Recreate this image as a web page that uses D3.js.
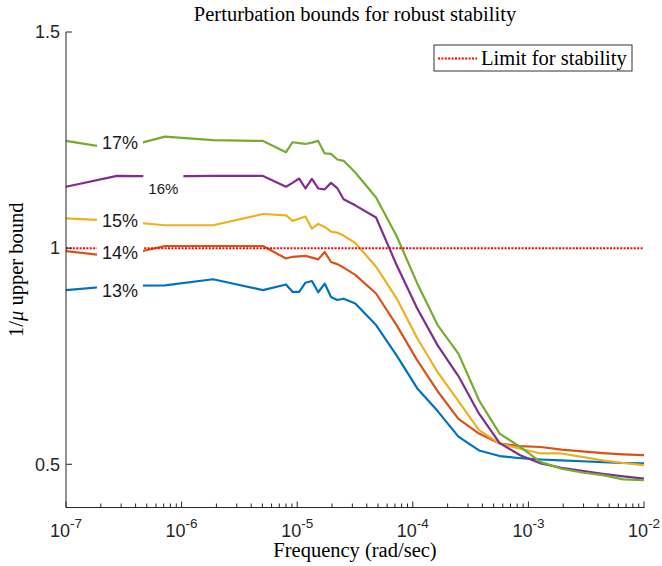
<!DOCTYPE html>
<html>
<head>
<meta charset="utf-8">
<script src="https://cdn.jsdelivr.net/npm/d3@7"></script>
<style>
  html, body { margin: 0; padding: 0; background: #fff; }
  svg { display: block; }
</style>
</head>
<body>
<svg id="chart" width="662" height="566"></svg>
<script>
// ---- data ----
const freqs = [1e-7, 2.76e-7, 7.18e-7, 1.87e-6, 5.06e-6, 8.0e-6, 9.1e-6, 1.04e-5, 1.18e-5, 1.34e-5,
  1.52e-5, 1.73e-5, 1.96e-5, 2.22e-5, 2.52e-5, 3.18e-5, 4.81e-5, 7.24e-5, 1.09e-4, 1.64e-4,
  2.48e-4, 3.74e-4, 5.64e-4, 8.49e-4, 1.28e-3, 1.93e-3, 2.91e-3, 4.39e-3, 6.61e-3, 1e-2];

const bound13 = [0.903,0.913,0.914,0.928,0.903,0.916,0.899,0.899,0.920,0.924,0.898,0.918,0.887,0.880,0.883,0.872,0.822,0.752,0.676,0.623,0.564,0.532,0.519,0.514,0.511,0.509,0.507,0.505,0.503,0.502];
const bound14 = [0.993,0.980,1.005,1.005,1.005,0.976,0.980,0.981,0.982,0.978,0.974,0.991,0.968,0.963,0.955,0.938,0.895,0.822,0.741,0.669,0.605,0.571,0.548,0.542,0.540,0.534,0.530,0.526,0.523,0.521];
const bound15 = [1.069,1.063,1.053,1.053,1.079,1.076,1.063,1.068,1.073,1.045,1.056,1.049,1.038,1.036,1.029,1.012,0.957,0.884,0.792,0.713,0.646,0.579,0.548,0.536,0.525,0.525,0.517,0.509,0.503,0.498];
const bound16 = [1.142,1.167,1.166,1.167,1.167,1.142,1.151,1.161,1.138,1.160,1.138,1.136,1.151,1.139,1.113,1.099,1.071,0.961,0.861,0.775,0.704,0.617,0.549,0.521,0.502,0.492,0.485,0.478,0.472,0.467];
const bound17 = [1.248,1.229,1.258,1.250,1.248,1.222,1.245,1.243,1.241,1.244,1.248,1.219,1.218,1.205,1.202,1.175,1.117,1.028,0.919,0.822,0.756,0.648,0.571,0.540,0.505,0.490,0.481,0.475,0.465,0.463];

const seriesNames = ["13%", "14%", "15%", "16%", "17%"];
const seriesValues = [bound13, bound14, bound15, bound16, bound17];
const seriesColors = ["#0072BD", "#D95319", "#EDB120", "#7E2F8E", "#77AC30"];

const stabilityLimit = 1;
const yTicks = [0.5, 1, 1.5];
const yTickLabels = ["0.5", "1", "1.5"];
const xTickExponents = [-7, -6, -5, -4, -3, -2];

// curve labels
const labelText = ["17%", "16%", "15%", "14%", "13%"];
const labelFreq = [2.93e-7, 6.95e-7, 2.93e-7, 2.93e-7, 2.93e-7];
const labelValue = [1.245, 1.137, 1.064, 0.990, 0.903];
const labelSize = [18, 15, 18, 18, 18];

const titleText = "Perturbation bounds for robust stability";
const xLabelText = "Frequency (rad/sec)";
const legendText = "Limit for stability";

// ---- layout ----
const mLeft = 66, mRight = 644, mTop = 32, mBottom = 507.5;
const SANS = "'Liberation Sans', Arial, Helvetica, sans-serif";
const SERIF = "'Liberation Serif', 'Times New Roman', serif";
const serifSize = 20.5;

const svg = d3.select("#chart");
const x = d3.scaleLog().domain([1e-7, 1e-2]).range([mLeft, mRight]);
const y = d3.scaleLinear().domain([0.4, 1.5]).range([mBottom, mTop]);

// curves
const line = d3.line().x(d => x(d[0])).y(d => y(d[1]));
seriesValues.forEach((vals, i) => {
  svg.append("path")
    .datum(freqs.map((f, j) => [f, vals[j]]))
    .attr("d", line)
    .attr("fill", "none")
    .attr("stroke", seriesColors[i])
    .attr("stroke-width", 2.2)
    .attr("stroke-linejoin", "round");
});

// stability limit
svg.append("line")
  .attr("x1", x(1e-7)).attr("x2", x(1e-2))
  .attr("y1", y(stabilityLimit)).attr("y2", y(stabilityLimit))
  .attr("stroke", "#ff0000").attr("stroke-width", 2)
  .attr("stroke-dasharray", "2,1.4");

// curve labels with white background
labelText.forEach((t, i) => {
  const g = svg.append("g");
  const fs = labelSize[i];
  const tx = g.append("text")
    .attr("x", x(labelFreq[i]))
    .attr("y", y(labelValue[i]) + 0.36 * fs)
    .attr("text-anchor", "middle")
    .attr("font-family", SANS)
    .attr("font-size", fs)
    .attr("fill", "#1a1a1a")
    .text(t);
  const bb = tx.node().getBBox();
  g.insert("rect", "text")
    .attr("x", bb.x - 5).attr("y", bb.y - 7)
    .attr("width", bb.width + 10).attr("height", bb.height + 10)
    .attr("fill", "#fff");
});

// axes
const axisColor = "#262626";
svg.append("line").attr("x1", mLeft).attr("x2", mLeft).attr("y1", mTop).attr("y2", mBottom)
  .attr("stroke", axisColor).attr("stroke-width", 1);
svg.append("line").attr("x1", mLeft).attr("x2", mRight + 0.5).attr("y1", mBottom).attr("y2", mBottom)
  .attr("stroke", axisColor).attr("stroke-width", 1);

// y ticks
yTicks.forEach((v, i) => {
  svg.append("line").attr("x1", mLeft).attr("x2", mLeft + 6)
    .attr("y1", y(v)).attr("y2", y(v)).attr("stroke", axisColor);
  svg.append("text").attr("x", mLeft - 6).attr("y", y(v) + 6.3)
    .attr("text-anchor", "end").attr("font-family", SANS).attr("font-size", 18)
    .attr("fill", "#262626").text(yTickLabels[i]);
});

// x ticks (major + minor)
xTickExponents.forEach((e, i) => {
  const base = Math.pow(10, e);
  svg.append("line").attr("x1", x(base)).attr("x2", x(base))
    .attr("y1", mBottom).attr("y2", mBottom - 6).attr("stroke", axisColor);
  if (i < xTickExponents.length - 1) {
    for (let k = 2; k <= 9; k++) {
      const xv = x(base * k);
      svg.append("line").attr("x1", xv).attr("x2", xv)
        .attr("y1", mBottom).attr("y2", mBottom - 4).attr("stroke", axisColor);
    }
  }
  const t = svg.append("text").attr("x", x(base)).attr("y", 536.5)
    .attr("text-anchor", "middle").attr("font-family", SANS).attr("font-size", 18)
    .attr("fill", "#262626");
  t.append("tspan").text("10");
  t.append("tspan").attr("font-size", 13.5).attr("dy", -9).text(String(e));
});

// title
svg.append("text").attr("x", (mLeft + mRight) / 2).attr("y", 21)
  .attr("text-anchor", "middle").attr("font-family", SERIF).attr("font-size", serifSize)
  .attr("fill", "#000").text(titleText);

// x label
svg.append("text").attr("x", (mLeft + mRight) / 2).attr("y", 557)
  .attr("text-anchor", "middle").attr("font-family", SERIF).attr("font-size", serifSize)
  .attr("fill", "#000").text(xLabelText);

// y label
const yl = svg.append("text")
  .attr("transform", `translate(23,${(mTop + mBottom) / 2}) rotate(-90)`)
  .attr("text-anchor", "middle").attr("font-family", SERIF).attr("font-size", serifSize)
  .attr("fill", "#000");
yl.append("tspan").text("1/");
yl.append("tspan").attr("font-style", "italic").text("μ");
yl.append("tspan").text(" upper bound");

// legend
const lg = svg.append("g");
lg.append("rect").attr("x", 434).attr("y", 45).attr("width", 198).attr("height", 26)
  .attr("fill", "#fff").attr("stroke", "#333").attr("stroke-width", 1);
lg.append("line").attr("x1", 438).attr("x2", 477).attr("y1", 58.5).attr("y2", 58.5)
  .attr("stroke", "#ff0000").attr("stroke-width", 2).attr("stroke-dasharray", "2,1.4");
lg.append("text").attr("x", 481).attr("y", 64.5)
  .attr("font-family", SERIF).attr("font-size", serifSize).attr("fill", "#000").text(legendText);
</script>
</body>
</html>
